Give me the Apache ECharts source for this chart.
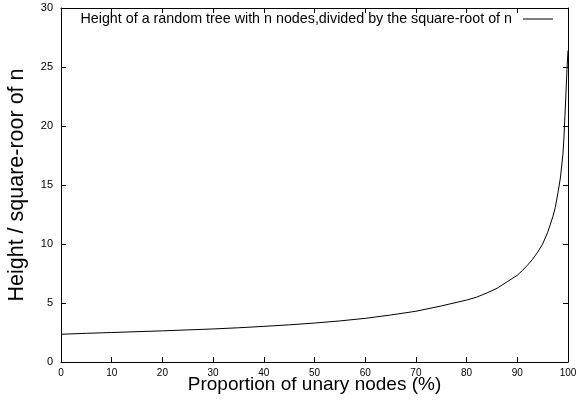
<!DOCTYPE html>
<html>
<head>
<meta charset="utf-8">
<script src="https://cdn.jsdelivr.net/npm/echarts@6/dist/echarts.min.js"></script>
<style>
  html, body { margin: 0; padding: 0; background: #fff; }
  #chart { width: 576px; height: 401px; }
</style>
</head>
<body>
<div id="chart"></div>
<script>
// proportion of unary nodes (%)
const unaryPct = [0, 5, 10, 15, 20, 25, 30, 35, 40, 45, 50, 55, 60, 65, 70, 75, 80, 82, 84, 86, 88, 90,
  91, 92, 93, 94, 95, 96, 97, 97.5, 98, 98.5, 99, 99.2, 99.4, 99.6, 99.8, 100];
// height / sqrt(n)
const heightRatio = [2.35, 2.43, 2.5, 2.57, 2.64, 2.72, 2.8, 2.9, 3.02, 3.15, 3.3, 3.48, 3.7, 3.98, 4.3, 4.75, 5.25, 5.5, 5.85, 6.25, 6.8, 7.35,
  7.75, 8.2, 8.7, 9.3, 10.0, 11.0, 12.3, 13.1, 14.3, 15.6, 17.6, 19.0, 20.9, 22.8, 24.8, 26.4];

const seriesName = "Height of a random tree with n nodes,divided by the square-root of n";
const points = unaryPct.map((x, i) => [x, heightRatio[i]]);

const font = "Liberation Sans, Arial, sans-serif";
const frameLine = { show: true, onZero: false, lineStyle: { color: "#000", width: 1 } };
const inTick = { show: true, inside: true, length: 5, lineStyle: { color: "#000" } };

const option = {
  animation: false,
  grid: { left: 61, right: 8, top: 8, bottom: 39, outerBoundsMode: "none" },
  legend: {
    right: 18,
    top: 7,
    icon: "rect",
    itemWidth: 30,
    itemHeight: 1,
    itemGap: 0,
    align: "right",
    textStyle: { fontFamily: font, fontSize: 14.3, color: "#000", padding: [0, 6, 0, 0] },
    data: [seriesName],
  },
  xAxis: [
    {
      type: "value",
      min: 0,
      max: 100,
      interval: 10,
      name: "Proportion of unary nodes (%)",
      nameLocation: "middle",
      nameGap: 13,
      nameMoveOverlap: false,
      nameTextStyle: { fontFamily: font, fontSize: 19, color: "#000" },
      axisLine: frameLine,
      axisTick: inTick,
      axisLabel: { fontFamily: font, fontSize: 10, color: "#000", margin: 6 },
      splitLine: { show: false },
    },
    {
      type: "value",
      position: "top",
      min: 0,
      max: 100,
      interval: 10,
      axisLine: frameLine,
      axisTick: inTick,
      axisLabel: { show: false },
      splitLine: { show: false },
    },
  ],
  yAxis: [
    {
      type: "value",
      min: 0,
      max: 30,
      interval: 5,
      name: "Height / square-roor of n",
      nameLocation: "middle",
      nameGap: 33,
      nameMoveOverlap: false,
      nameTextStyle: { fontFamily: font, fontSize: 21.5, color: "#000" },
      axisLine: frameLine,
      axisTick: inTick,
      axisLabel: { fontFamily: font, fontSize: 11, color: "#000", margin: 8 },
      splitLine: { show: false },
    },
    {
      type: "value",
      position: "right",
      min: 0,
      max: 30,
      interval: 5,
      axisLine: frameLine,
      axisTick: inTick,
      axisLabel: { show: false },
      splitLine: { show: false },
    },
  ],
  series: [
    {
      name: seriesName,
      type: "line",
      data: points,
      showSymbol: false,
      smooth: false,
      lineStyle: { color: "#000", width: 1 },
      itemStyle: { color: "#000" },
    },
  ],
};

const myChart = echarts.init(document.getElementById("chart"));
myChart.setOption(option);
</script>
</body>
</html>
